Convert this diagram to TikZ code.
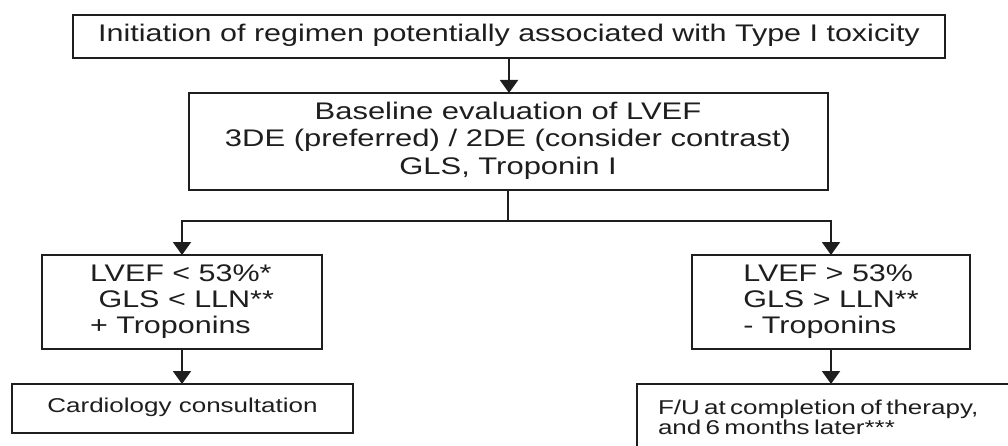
\documentclass[tikz,border=0pt]{standalone}
\usepackage{fontspec}
\setmainfont{Liberation Sans}
\usetikzlibrary{arrows.meta}
\definecolor{ink}{HTML}{1E1E1E}
\newcommand{\stx}[5]{\scalebox{#1}[1]{\fontsize{#2}{#3}\selectfont\begin{tabular}{@{}#4@{}}#5\end{tabular}}}
\begin{document}
\begin{tikzpicture}[x=1pt,y=-1pt,
 box/.style={draw=ink, line width=2pt, inner sep=0pt, outer sep=0pt, text=ink, fill=white},
 arr/.style={draw=ink, line width=2pt, -{Triangle[width=18pt,length=13pt]}},
 conn/.style={draw=ink, line width=2pt}]
\useasboundingbox (0,0) rectangle (1008,446);
\clip (0,0) rectangle (1008,446);
\node[box, minimum width=872pt, minimum height=43pt] (top) at (509,36.5)
  {\stx{1.27}{24}{26}{c}{Initiation of regimen potentially associated with Type I toxicity}};
\node[box, minimum width=639pt, minimum height=97pt] (base) at (508,141.5)
  {\stx{1.29}{24}{27.5}{c}{Baseline evaluation of LVEF\\3DE (preferred) / 2DE (consider contrast)\\GLS, Troponin I}};
\node[box, minimum width=280pt, minimum height=94pt] (low) at (182,302)
  {\stx{1.27}{24}{26}{l}{LVEF < 53\%*\\\hspace{.28em}GLS < LLN**\\+ Troponins}};
\node[box, minimum width=278pt, minimum height=94pt] (high) at (831,302)
  {\stx{1.27}{24}{26}{l}{LVEF > 53\%\\GLS > LLN**\\- Troponins}};
\node[box, minimum width=341pt, minimum height=49pt] (cardio) at (182.5,408.5)
  {\stx{1.3}{20}{18.5}{c}{Cardiology consultation}};
\node[box, anchor=north west, minimum width=420pt, minimum height=73pt, text width=380pt, align=left, inner xsep=21pt] (fu) at (637,384)
  {\stx{1.3}{20}{18.5}{l}{F/U at completion of therapy,\\and 6 months later***}};
\coordinate (j) at (508,221);
\draw[arr] (top.south) -- (top.south |- base.north);
\draw[conn] (base.south) -- (j);
\draw[arr] (j) -| (low.north);
\draw[arr] (j) -| (high.north);
\draw[arr] (low.south) -- (low.south |- cardio.north);
\draw[arr] (high.south) -- (high.south |- fu.north);
\end{tikzpicture}
\end{document}
